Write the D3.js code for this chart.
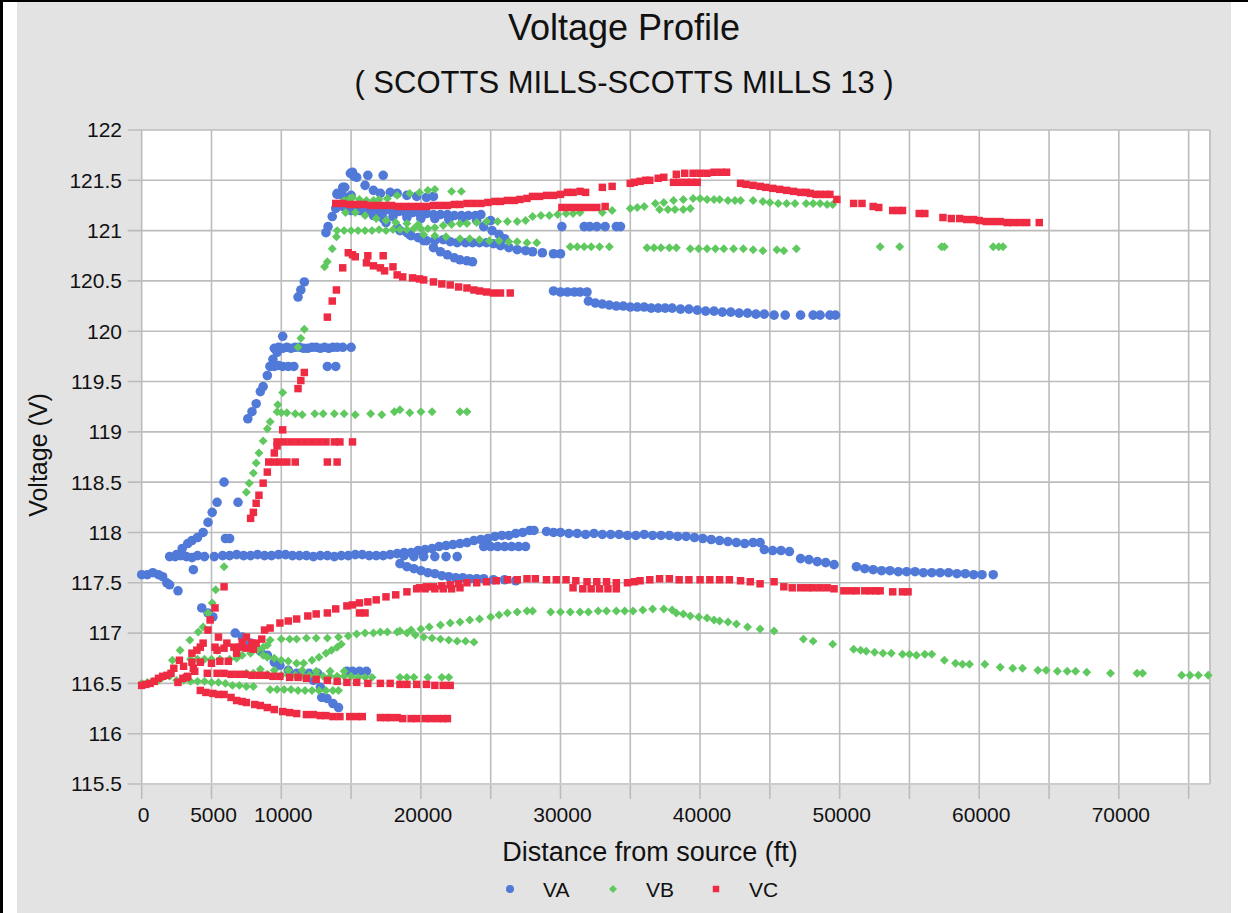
<!DOCTYPE html>
<html>
<head>
<meta charset="utf-8">
<script src="https://cdn.jsdelivr.net/npm/d3@7"></script>
<style>
  html, body { margin: 0; padding: 0; background: #fff; }
  svg { display: block; font-family: "Liberation Sans", Arial, sans-serif; }
</style>
</head>
<body>
<div id="chart"></div>
<script>
// ---- data: [distance ft, volts] ----
const xGridTicks = d3.range(0, 75001, 5000);
const xLabelTicks = [0, 5000, 10000, 20000, 30000, 40000, 50000, 60000, 70000];
const yTicks = [115.5, 116, 116.5, 117, 117.5, 118, 118.5, 119, 119.5, 120, 120.5, 121, 121.5, 122];
const seriesNames = ["VA", "VB", "VC"];

// VA (phase A)
const vaFeeder = [[0,117.58],[400,117.58],[800,117.6],[1200,117.58],[1500,117.56],[1800,117.5],[2000,117.48],[2600,117.42],[3700,117.63]];
const vaRise = [[2000,117.76],[2500,117.78],[2900,117.84],[3300,117.89],[3600,117.92],[4000,117.95],[4400,118.0],[4750,118.1],[5050,118.2],[5400,118.3],[5900,118.5],[6000,117.94],[6300,117.94],[6900,118.3],[7600,119.13],[7900,119.2],[8200,119.28],[8500,119.4],[8700,119.45],[9000,119.56],[9200,119.65],[9400,119.72],[9700,119.79],[10100,119.95],[11200,120.34],[11400,120.41],[11650,120.49],[13200,120.98],[13350,121.04],[13650,121.14],[14000,121.37],[14400,121.43],[14550,121.43],[14950,121.57],[15100,121.58],[15200,121.54],[15400,121.53],[16200,121.55],[17300,121.55]];
const va1198 = [[9500,119.83],[9800,119.84],[10100,119.83],[10400,119.84],[10700,119.83],[11000,119.84],[11300,119.84],[11600,119.83],[11900,119.83],[12200,119.84],[12500,119.84],[12800,119.83],[13100,119.84],[13400,119.83],[13700,119.84],[14000,119.84],[14400,119.84],[15000,119.84]];
const va1196 = [[9200,119.65],[9500,119.65],[9800,119.66],[10100,119.65],[10500,119.65],[10900,119.65],[13300,119.65],[13900,119.65]];
const vaMain = [[2400,117.76],[2800,117.77],[3200,117.76],[3600,117.75],[4000,117.77],[4500,117.76],[5200,117.76],[5800,117.77],[6300,117.77],[6800,117.78],[7300,117.77],[7800,117.77],[8300,117.78],[8800,117.77],[9300,117.77],[9800,117.78],[10300,117.78],[10800,117.77],[11300,117.77],[11800,117.77],[12300,117.76],[12800,117.77],[13300,117.77],[13800,117.76],[14300,117.77],[14800,117.77],[15300,117.78],[15800,117.78],[16300,117.77],[16800,117.77],[17300,117.77],[17800,117.78],[18300,117.79],[18800,117.8],[19300,117.8],[19800,117.82],[20300,117.83],[20800,117.84],[21300,117.86],[21800,117.87],[22300,117.88],[22800,117.89],[23300,117.9],[23800,117.92],[24300,117.93],[24800,117.94],[25300,117.96],[25800,117.97],[26300,117.97],[26800,117.99],[27300,118.0],[27800,118.02],[28100,118.02],[29000,118.01],[29500,118.0],[30000,118.0],[30600,117.99],[31200,117.99],[31800,117.98],[32400,117.99],[33000,117.98],[33600,117.98],[34200,117.98],[34800,117.97],[35400,117.97],[36000,117.98],[36600,117.97],[37200,117.97],[37800,117.97],[38400,117.96],[39000,117.96],[39600,117.95],[40200,117.94],[40800,117.93],[41400,117.92],[42000,117.91],[42600,117.9],[43200,117.89],[43800,117.9],[44300,117.9],[44600,117.83],[45200,117.82],[45800,117.82],[46400,117.81],[47200,117.74],[47800,117.73],[48400,117.71],[49000,117.7],[49600,117.68],[51200,117.66],[51800,117.64],[52400,117.63],[53000,117.62],[53600,117.62],[54200,117.61],[54800,117.61],[55400,117.61],[56000,117.6],[56600,117.6],[57200,117.6],[57800,117.6],[58400,117.59],[59000,117.59],[59600,117.58],[60200,117.58],[61000,117.58]];
const vaSub = [[18800,117.77],[19500,117.76],[20200,117.76],[21000,117.76],[21800,117.76],[22600,117.76],[24500,117.86],[25000,117.86],[25500,117.86],[26000,117.86],[26500,117.86],[27000,117.86],[27500,117.86]];
const vaDrop = [[18500,117.69],[19000,117.66],[19500,117.64],[20000,117.62],[20500,117.6],[21000,117.59],[21500,117.57],[22000,117.56],[22500,117.55],[23000,117.55],[23500,117.54],[24000,117.54],[24500,117.54],[25200,117.53],[26000,117.53],[26800,117.52]];
const vaLow = [[4300,117.25],[4750,117.2],[5100,117.16],[6700,117.0],[7200,116.96],[7800,116.9],[8500,116.82],[9000,116.78],[9500,116.71],[9900,116.68],[10500,116.63],[11100,116.6],[11700,116.58],[12300,116.53],[12800,116.46],[12900,116.36],[13270,116.35],[13700,116.3],[14100,116.26],[12000,116.6],[12600,116.6],[14700,116.62],[15100,116.62],[15600,116.62],[16100,116.62]];
const vaTop = [[14000,121.36],[14400,121.35],[15000,121.35],[16000,121.45],[16600,121.4],[17100,121.37],[17800,121.38],[18300,121.37],[19000,121.35],[19700,121.34],[20400,121.33],[20900,121.34],
  [13900,121.22],[14400,121.24],[14900,121.25],[15400,121.24],[15900,121.22],[16400,121.22],[16900,121.21],[17400,121.2],[17900,121.2],[18400,121.19],[18900,121.18],[19400,121.18],[19900,121.17],[20400,121.17],[20900,121.16],[21400,121.16],[21900,121.16],[22400,121.15],[22900,121.15],[23400,121.15],[23900,121.15],[24300,121.16],
  [15000,121.2],[16000,121.18],[17000,121.16],[18000,121.14],[19000,121.13],[20000,121.12],[21000,121.12],[22000,121.11],[23000,121.11],[24000,121.1],[25000,121.1]];
const vaSlope = [[14500,121.25],[15600,121.2],[16600,121.15],[17300,121.12],[17500,121.08],[18300,121.03],[19000,120.98],[19200,120.96],[19800,120.93],[20400,120.9],[21000,120.9],[21600,120.91],[22100,120.89],[22600,120.88],[23200,120.88],[23700,120.88],[24200,120.88],[24700,120.88],[25200,120.87],[25700,120.85],[26300,120.83],[26900,120.81],[27500,120.8],[28000,120.79],[28700,120.78],[29500,120.77],[30000,120.77],
  [18500,121.0],[19300,120.95],[20200,120.9],[20900,120.83],[21400,120.79],[21900,120.76],[22400,120.73],[22800,120.71],[23300,120.7],[23700,120.69],
  [24500,121.04],[25100,121.0],[25600,120.96],[26000,120.92]];
const va121 = [[30100,121.04],[31700,121.04],[32100,121.04],[32600,121.04],[33200,121.04],[34000,121.04],[34300,121.04]];
const va1202 = [[29500,120.4],[30000,120.39],[30500,120.39],[31000,120.39],[31400,120.39],[31900,120.39],[32000,120.3],[32500,120.28],[33000,120.27],[33500,120.26],[34000,120.25],[34500,120.25],[35000,120.24],[35500,120.24],[36000,120.24],[36500,120.23],[37000,120.23],[37500,120.23],[38000,120.23],[38600,120.22],[39200,120.22],[39800,120.21],[40400,120.2],[41000,120.2],[41600,120.19],[42200,120.19],[42800,120.18],[43400,120.18],[44000,120.17],[44600,120.17],[45300,120.16],[46100,120.16],[47200,120.16],[48100,120.16],[48600,120.16],[49300,120.16],[49700,120.16]];

// VB (phase B)
const vbFeeder = [[0,116.5],[400,116.51],[800,116.52],[1200,116.53],[1500,116.56],[2000,116.57],[2500,116.53],[3000,116.53],[3500,116.52],[4000,116.52],[4500,116.52],[5000,116.51],[5500,116.51],[6000,116.5]];
const vb1165 = [[6500,116.48],[7000,116.48],[7500,116.47],[8000,116.47],[9200,116.44],[9700,116.44],[10200,116.44],[10700,116.44],[11200,116.43],[11700,116.43],[12200,116.43],[12700,116.43],[13200,116.43],[13700,116.43],[14100,116.43],
  [7500,116.6],[8000,116.6],[8500,116.6],[9000,116.59],[9500,116.59],[10000,116.58],[10500,116.58],[11000,116.58],[11500,116.58],[12000,116.58],[12500,116.58],[13000,116.57],[13500,116.57],[14000,116.57],[14500,116.57],[15000,116.57],[15500,116.56],[16000,116.56],[16500,116.56],[18500,116.56],[19000,116.56],[19500,116.56],[20500,116.56],[21500,116.56],[22000,116.56],
  [8500,116.64],[9500,116.63],[10500,116.63],[11500,116.63],[12500,116.62],[13500,116.62],[14500,116.62]];
const vbLowLeft = [[2200,116.73],[2750,116.83],[3450,116.93],[4050,117.01],[4400,117.06],[3500,116.74],[4000,116.74],[4500,116.74],[5000,116.74],[5400,116.83],[5600,116.74],[6300,116.74],[6800,116.75],[7200,116.78],[7800,116.8],[8300,116.83],[8700,116.86],[9000,116.88],[9500,116.75],[10000,116.73],[10500,116.72],[11100,116.7],[11600,116.7],[12200,116.73],[12700,116.76],[13200,116.8],[13600,116.83],[14000,116.86],[14300,116.89],[8700,116.78],[9000,116.76]];
const vbSteep = [[4750,117.2],[5050,117.3],[5300,117.43],[5900,117.66],[7500,118.4],[7700,118.49],[8000,118.59],[8200,118.69],[8400,118.79],[8700,118.91],[9000,119.03],[9200,119.1],[9750,119.27],[10100,119.39],[11200,119.84],[11400,119.93],[11650,120.02],[13100,120.64],[13300,120.69],[13650,120.82],[13950,120.94]];
const vb1192 = [[9700,119.2],[10000,119.19],[10400,119.19],[11000,119.18],[11500,119.17],[12400,119.18],[13000,119.18],[13800,119.18],[14500,119.18],[15300,119.17],[16400,119.18],[17200,119.17],[18100,119.2],[18500,119.22],[19200,119.19],[20000,119.2],[20800,119.2],[22800,119.2],[23300,119.2]];
const vbTop = [[14000,121.0],[14500,121.0],[15000,121.0],[15500,121.0],[16000,121.0],[16500,121.0],[17000,121.01],[17500,121.0],[18000,121.01],[18500,121.01],[19000,121.01],[19500,121.02],[20000,121.02],[20500,121.02],[21000,121.03],[21600,121.05],[22200,121.06],[22800,121.07],[23300,121.07],[24000,121.08],[24700,121.09],[25500,121.09],[26200,121.09],[26900,121.09],[27500,121.1],
  [28000,121.14],[28600,121.15],[29200,121.15],[29800,121.16],[30400,121.17],[30900,121.17],[31400,121.18],[33000,121.18],[33700,121.2],[35000,121.22],[35500,121.23],[36000,121.24],[36800,121.27],[37400,121.28],[38100,121.3],[38800,121.31],[39500,121.32],[40000,121.32],[40500,121.31],[41000,121.31],[41400,121.31],[42000,121.3],[42500,121.3],[42900,121.3],[43800,121.3],[44500,121.29],[45000,121.28],[45600,121.27],[46200,121.27],[46800,121.27],[47600,121.27],[48100,121.27],[48600,121.27],[49100,121.26],[49500,121.26],
  [37100,121.21],[37700,121.21],[38200,121.21],[38800,121.21],[39300,121.22]];
const vbUpper = [[14500,121.3],[14900,121.32],[15100,121.33],[15600,121.31],[16100,121.3],[16600,121.3],[17000,121.31],[17600,121.32],[18300,121.35],[19200,121.37],[19900,121.38],[20500,121.4],[21000,121.41],[22200,121.39],[22900,121.39],
  [14600,121.18],[15300,121.18],[16000,121.15],[16800,121.12],[17500,121.1],[18200,121.08],[19000,121.07],[19800,121.06]];
const vb1209 = [[20200,120.96],[21000,120.95],[21800,120.94],[22800,120.92],[23500,120.92],[24200,120.91],[24900,120.9],[25600,120.9],[26300,120.89],[26900,120.89],[27600,120.88],[28300,120.88],
  [30700,120.84],[31200,120.84],[31700,120.84],[32200,120.84],[32800,120.84],[33500,120.84],[36200,120.83],[36700,120.83],[37200,120.83],[37800,120.83],[38300,120.83],[39300,120.82],[39900,120.82],[40500,120.82],[41100,120.82],[41700,120.82],[42400,120.82],[43100,120.82],[43800,120.81],[44500,120.8],[45500,120.81],[46000,120.8],[46900,120.82],[52900,120.84],[54300,120.84],[57300,120.84],[57500,120.84],[61000,120.84],[61400,120.84],[61700,120.84]];
const vb117 = [[9200,116.93],[10000,116.94],[10600,116.94],[11100,116.94],[11800,116.95],[12500,116.95],[13300,116.95],[14100,116.96],[14800,116.97],[15400,116.99],[16000,117.0],[16600,117.0],[17100,117.01],[17600,117.01],[18300,117.01],[19000,117.0],[19600,116.98],[20200,116.96],[20800,116.95],[21400,116.94],[22000,116.93],[22600,116.92],[23200,116.92],[23800,116.91]];
const vbArc = [[18500,117.02],[19300,117.03],[20000,117.04],[20600,117.06],[21400,117.08],[22100,117.1],[22800,117.11],[23500,117.13],[24200,117.14],[25000,117.16],[25600,117.18],[26200,117.2],[26900,117.21],[27600,117.22],[28000,117.22],[29300,117.21],[30000,117.21],[30700,117.21],[31400,117.21],[32000,117.21],[32700,117.22],[33300,117.22],[34000,117.22],[34600,117.22],[35200,117.22],[35900,117.23],[36600,117.24],[37400,117.24],[38000,117.23],[38300,117.2],[38800,117.19],[39300,117.17],[39900,117.16],[40500,117.15],[41000,117.13],[41400,117.12],[42000,117.11],[42600,117.09],[43400,117.06],[44300,117.04],[45300,117.02],[47400,116.94],[48100,116.92],[49500,116.89],[51000,116.84],[51500,116.83],[51900,116.82],[52500,116.81],[53100,116.8],[53700,116.8],[54500,116.79],[55000,116.79],[55500,116.78],[56100,116.79],[56600,116.79],[57500,116.73],[58300,116.7],[58800,116.69],[59300,116.69],[60400,116.69],[61500,116.66],[62400,116.65],[63100,116.65],[64200,116.63],[64800,116.63],[65600,116.62],[66300,116.62],[66900,116.62],[67700,116.61],[69400,116.6],[71300,116.6],[71700,116.6],[74500,116.58],[75100,116.58],[75700,116.58],[76400,116.58]];

// VC (phase C)
const vcFeeder = [[0,116.48],[300,116.49],[600,116.5],[900,116.52],[1200,116.55],[1500,116.57],[1800,116.58],[2100,116.6]];
const vcLow = [[4200,116.43],[4600,116.41],[5100,116.4],[5500,116.39],[5900,116.39],[6400,116.36],[6800,116.33],[7200,116.32],[7500,116.31],[8100,116.29],[8500,116.28],[9000,116.26],[9500,116.24],[10100,116.22],[10600,116.21],[11100,116.2],[11800,116.19],[12300,116.19],[12800,116.18],[13200,116.18],[13700,116.17],[14200,116.17],[14900,116.17],[15400,116.17],[15800,116.17],[17100,116.16],[17500,116.16],[17800,116.16],[18300,116.16],[18700,116.15],[19300,116.15],[19700,116.15],[20300,116.15],[20700,116.15],[21200,116.15],[21600,116.15],[21900,116.15]];
const vc1165 = [[5400,116.6],[5900,116.6],[6400,116.59],[6900,116.59],[7400,116.59],[7900,116.58],[8400,116.58],[8900,116.58],[9400,116.57],[9900,116.57],[10600,116.56],[11200,116.56],[11800,116.55],[12500,116.54],[13300,116.53],[14000,116.52],[14700,116.51],[15400,116.51],[16200,116.5],[17100,116.5],[17800,116.5],[18500,116.49],[19000,116.49],[19700,116.49],[20400,116.49],[21000,116.48],[21600,116.48],[22100,116.48]];
const vcCluster = [[2300,116.65],[2700,116.73],[2950,116.55],[2600,116.51],[3000,116.67],[3300,116.57],[3200,116.56],[3600,116.71],[3700,116.65],[3800,116.62],[4200,116.71],[4700,116.6],[3600,116.8],[3950,116.83],[4200,116.86],[4400,116.9],[4750,117.03],[4900,117.13],[5250,117.25],[5500,116.96],[5250,116.86],[5000,116.7],[5400,116.83],[5600,116.72],[5900,116.85],[6100,116.9],[6200,116.72],[6600,116.86],[6800,116.8],[7000,116.86],[7200,116.91],[7500,116.85],[7500,116.96],[7900,116.9],[8000,116.84],[8200,116.9],[8600,116.94]];
const vcSteep = [[5900,117.46],[7800,118.14],[8000,118.2],[8200,118.29],[8400,118.37],[8700,118.49],[9000,118.6],[9500,118.79],[9700,118.86],[10100,119.02],[11200,119.43],[11400,119.51],[11650,119.59],[13300,120.14],[13650,120.3],[13950,120.41],[14400,120.63]];
const vc1189 = [[9700,118.9],[10200,118.9],[10700,118.9],[11200,118.9],[11700,118.9],[12200,118.9],[12700,118.9],[13200,118.9],[13800,118.9],[14200,118.9],[15100,118.9],
  [9100,118.7],[9500,118.7],[9900,118.7],[10400,118.7],[11000,118.7],[13300,118.7],[14000,118.7]];
const vc1207 = [[14800,120.78],[15100,120.76],[15300,120.74],[16200,120.75],[17300,120.75],[16100,120.68],[16600,120.65],[17100,120.63],[17400,120.6],[18000,120.64],[18300,120.56],[18700,120.54],[19400,120.53],[19900,120.52],[20200,120.51],[20900,120.49],[21500,120.47],[22100,120.46],[22700,120.44],[23300,120.43],[23800,120.41],[24200,120.4],[24700,120.39],[25200,120.38],[25700,120.38],[26400,120.38]];
const vcTop = [[13900,121.27],[14400,121.27],[14900,121.26],[15400,121.26],[15900,121.26],[16400,121.25],[16900,121.25],[17400,121.25],[17900,121.25],[18400,121.24],[18900,121.24],[19400,121.24],[19900,121.24],[20400,121.24],[20900,121.25],[21400,121.25],[21900,121.25],[22400,121.26],[22800,121.26],[23300,121.27],[23800,121.27],[24300,121.27],[24800,121.28],[25300,121.29],[25700,121.29],[26200,121.3],[26700,121.3],[27100,121.31],[27600,121.32],[28000,121.34],[28500,121.34],[29000,121.35],[29500,121.35],[30000,121.36],[30500,121.38],[30900,121.38],[31400,121.39],[31800,121.38],[33000,121.43],[33700,121.44],[35000,121.47],[35300,121.48],[35700,121.49],[36100,121.5],[36400,121.5],[37000,121.52],[37400,121.53],[38300,121.56],[38900,121.57],[39500,121.57],[40000,121.57],[40500,121.57],[41000,121.58],[41500,121.58],[41900,121.58],[42900,121.47],[43300,121.46],[43800,121.45],[44300,121.44],[44700,121.43],[45200,121.42],[45700,121.41],[46200,121.4],[46700,121.39],[47200,121.38],[47600,121.38],[47900,121.37],[48300,121.36],[48600,121.36],[49000,121.36],[49300,121.36],[49800,121.31],[51000,121.27],[51600,121.27],[52400,121.24],[52800,121.23],[53800,121.2],[54200,121.2],[54500,121.2],[55700,121.17],[56100,121.17],[57400,121.13],[58000,121.12],[58600,121.12],[59100,121.11],[59600,121.11],[60000,121.1],[60500,121.09],[61000,121.09],[61500,121.09],[62000,121.08],[62400,121.08],[62900,121.08],[63400,121.08],[64300,121.08]];
const vcMid = [[30100,121.23],[30600,121.23],[31100,121.23],[31600,121.23],[32100,121.23],[32600,121.23],[33200,121.24],[38100,121.48],[38500,121.48],[39000,121.48],[39400,121.48],[39800,121.48]];
const vc117 = [[8800,117.03],[9200,117.05],[9900,117.1],[10500,117.12],[11100,117.14],[11900,117.17],[12500,117.19],[13300,117.2],[13900,117.24],[14700,117.27],[15100,117.28],[15600,117.3],[16200,117.31],[16800,117.33],[17500,117.36],[18200,117.38],[19000,117.41],[19900,117.45],[20400,117.46],[20900,117.46],[21500,117.47],[22100,117.48],[22700,117.49],[23300,117.5],[24000,117.5],[24700,117.51],[25400,117.52],[26200,117.53],[26900,117.53],[27600,117.54],[28200,117.54],[29000,117.53],[29700,117.53],[30400,117.53],[31100,117.52],[31900,117.51],[32600,117.51],[33300,117.51],[34000,117.5],[34800,117.5],[35300,117.51],[35700,117.52],[36400,117.53],[37100,117.54],[37800,117.54],[38500,117.53],[39200,117.53],[40000,117.53],[40700,117.53],[41400,117.53],[42100,117.53],[42900,117.52],[43600,117.51],[44300,117.49],[45300,117.51],[46000,117.46],[46600,117.45],[47200,117.45],[47700,117.45],[48100,117.45],[48600,117.45],[49100,117.45],[49600,117.44],[50300,117.42],[50800,117.42],[51200,117.42],[51800,117.42],[52200,117.42],[52600,117.42],[52900,117.42],[53800,117.41],[54500,117.41],[54900,117.41],
  [15600,117.2],[16000,117.2],[19700,117.44],[20300,117.44],[21000,117.44],[21600,117.44],[22200,117.44],[22800,117.45],[30900,117.45],[31600,117.44],[32200,117.44],[32800,117.44],[33400,117.44],[34000,117.44]];

const seriesVA = [].concat(vaFeeder, vaRise, va1198, va1196, vaMain, vaSub, vaDrop, vaLow, vaTop, vaSlope, va121, va1202);
const seriesVB = [].concat(vbFeeder, vb1165, vbLowLeft, vbSteep, vb1192, vbTop, vbUpper, vb1209, vb117, vbArc);
const seriesVC = [].concat(vcFeeder, vcLow, vc1165, vcCluster, vcSteep, vc1189, vc1207, vcTop, vcMid, vc117);

// ---- layout ----
const W = 1248, H = 913;
const plot = {left: 141.7, right: 1210, top: 130, bottom: 784};
const colors = {VA: "#5079d8", VB: "#5fc95f", VC: "#ee2b43"};
const gridColor = "#bcbcbc";

const x = d3.scaleLinear().domain([0, 76530]).range([plot.left, plot.right]);
const y = d3.scaleLinear().domain([115.5, 122]).range([plot.bottom, plot.top]);

const svg = d3.select("#chart").append("svg")
  .attr("width", W).attr("height", H);

// frame
svg.append("rect").attr("x", 0).attr("y", 0).attr("width", W).attr("height", H).attr("fill", "#fff");
svg.append("rect").attr("x", 17).attr("y", 2).attr("width", 1214).attr("height", H - 2).attr("fill", "#e3e3e3");
svg.append("rect").attr("x", 0).attr("y", 0).attr("width", 3).attr("height", H).attr("fill", "#000");
svg.append("rect").attr("x", 0).attr("y", 0).attr("width", W).attr("height", 2).attr("fill", "#000");

// plot area
svg.append("rect")
  .attr("x", plot.left).attr("y", plot.top)
  .attr("width", plot.right - plot.left).attr("height", plot.bottom - plot.top)
  .attr("fill", "#fff");

// grid + ticks
const grid = svg.append("g").attr("stroke", gridColor).attr("stroke-width", 1.6);
grid.selectAll("line.v").data(xGridTicks).join("line")
  .attr("x1", d => x(d)).attr("x2", d => x(d))
  .attr("y1", plot.top).attr("y2", plot.bottom + 15);
grid.selectAll("line.h").data(yTicks).join("line")
  .attr("x1", plot.left - 14).attr("x2", plot.right)
  .attr("y1", d => y(d)).attr("y2", d => y(d));
svg.append("line")
  .attr("x1", plot.right).attr("x2", plot.right)
  .attr("y1", plot.top).attr("y2", plot.bottom)
  .attr("stroke", "#c4c4c4").attr("stroke-width", 2);
svg.append("line")
  .attr("x1", plot.left).attr("x2", plot.right)
  .attr("y1", plot.bottom).attr("y2", plot.bottom)
  .attr("stroke", "#cccccc").attr("stroke-width", 2);

// tick labels
svg.append("g").selectAll("text").data(yTicks).join("text")
  .attr("x", 122).attr("y", d => y(d)).attr("dy", "0.35em")
  .attr("text-anchor", "end").attr("font-size", 21).attr("fill", "#111")
  .text(d => d);
svg.append("g").selectAll("text").data(xLabelTicks).join("text")
  .attr("x", d => x(d) + 2).attr("y", 822)
  .attr("text-anchor", "middle").attr("font-size", 21).attr("fill", "#111")
  .text(d => d);

// titles
svg.append("text").attr("x", 624).attr("y", 40).attr("text-anchor", "middle")
  .attr("font-size", 36).attr("fill", "#111").text("Voltage Profile");
svg.append("text").attr("x", 624).attr("y", 93).attr("text-anchor", "middle")
  .attr("font-size", 31).attr("fill", "#111").text("( SCOTTS MILLS-SCOTTS MILLS 13 )");
svg.append("text").attr("x", 650).attr("y", 861).attr("text-anchor", "middle")
  .attr("font-size", 27).attr("fill", "#111").text("Distance from source (ft)");
svg.append("text").attr("transform", "translate(47,455) rotate(-90)").attr("text-anchor", "middle")
  .attr("font-size", 25).attr("fill", "#111").text("Voltage (V)");

// markers
const shapes = {
  VA: d3.symbol(d3.symbolCircle, 72)(),
  VB: d3.symbol(d3.symbolSquare, 40)(),
  VC: d3.symbol(d3.symbolSquare, 56)()
};
const rot = {VA: "", VB: " rotate(45)", VC: ""};

function drawSeries(name, pts) {
  svg.append("g").attr("fill", colors[name])
    .selectAll("path").data(pts).join("path")
    .attr("d", shapes[name])
    .attr("transform", d => `translate(${x(d[0])},${y(d[1])})${rot[name]}`);
}
drawSeries("VA", seriesVA);
drawSeries("VB", seriesVB);
drawSeries("VC", seriesVC);

// legend
const legendX = {VA: 510, VB: 613, VC: 716};
const legendShapes = {
  VA: d3.symbol(d3.symbolCircle, 50)(),
  VB: d3.symbol(d3.symbolSquare, 32)(),
  VC: d3.symbol(d3.symbolSquare, 42)()
};
const legend = svg.append("g");
seriesNames.forEach(n => {
  legend.append("path")
    .attr("d", legendShapes[n])
    .attr("transform", `translate(${legendX[n]},889)${rot[n]}`)
    .attr("fill", colors[n]);
  legend.append("text")
    .attr("x", legendX[n] + 33).attr("y", 897)
    .attr("font-size", 21).attr("fill", "#111").text(n);
});
</script>
</body>
</html>
